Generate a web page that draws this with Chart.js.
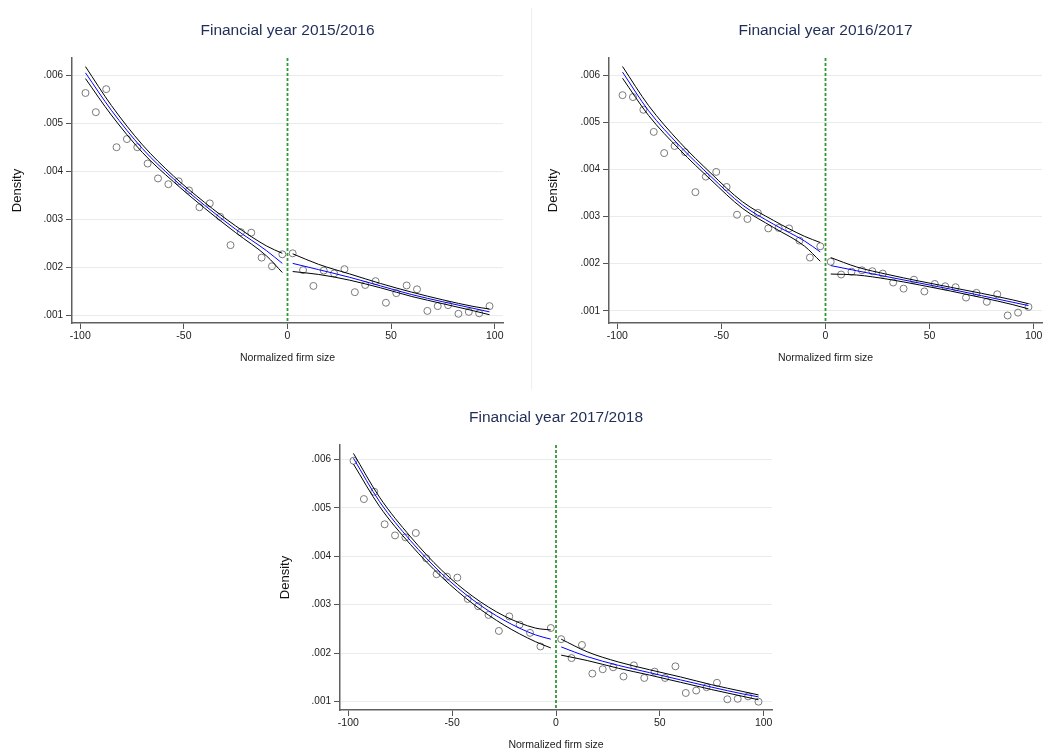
<!DOCTYPE html>
<html>
<head>
<meta charset="utf-8">
<title>Density by normalized firm size</title>
<script src="https://cdn.jsdelivr.net/npm/chart.js@4.4.0/dist/chart.umd.min.js"></script>
<style>
    body { margin: 0; background: #fff; width: 1047px; height: 753px; overflow: hidden; position: relative; }
    canvas { position: absolute; }
    #divider { position: absolute; left: 531px; top: 8px; width: 1px; height: 382px; background: #edf1f1; }
</style>
</head>
<body>
<div id="divider"></div>
<canvas id="c1" width="530" height="366" style="left:0;top:0"></canvas>
<canvas id="c2" width="517" height="366" style="left:530px;top:0"></canvas>
<canvas id="c3" width="520" height="366" style="left:270px;top:387px"></canvas>
<script>
// bin midpoints (normalized firm size)
const binX = [-97.5, -92.5, -87.5, -82.5, -77.5, -72.5, -67.5, -62.5, -57.5, -52.5,
    -47.5, -42.5, -37.5, -32.5, -27.5, -22.5, -17.5, -12.5, -7.5, -2.5,
    2.5, 7.5, 12.5, 17.5, 22.5, 27.5, 32.5, 37.5, 42.5, 47.5,
    52.5, 57.5, 62.5, 67.5, 72.5, 77.5, 82.5, 87.5, 92.5, 97.5];

// binned densities
const density1516 = [.00564, .00524, .00572, .00451, .00468, .00451, .00417, .00386, .00374, .00380,
    .00361, .00326, .00334, .00306, .00247, .00274, .00273, .00221, .00203, .00228,
    .00230, .00195, .00162, .00194, .00188, .00197, .00149, .00164, .00172, .00127,
    .00147, .00163, .00155, .00110, .00120, .00122, .00104, .00108, .00105, .00120];
const density1617 = [.00558, .00554, .00527, .00480, .00435, .00450, .00437, .00352, .00385, .00395,
    .00363, .00304, .00295, .00308, .00275, .00276, .00275, .00249, .00213, .00237,
    .00204, .00177, .00183, .00186, .00184, .00179, .00160, .00147, .00166, .00141,
    .00157, .00152, .00150, .00128, .00138, .00119, .00135, .00090, .00096, .00108];
const density1718 = [.00597, .00518, .00533, .00466, .00443, .00439, .00448, .00396, .00363, .00358,
    .00356, .00312, .00297, .00279, .00246, .00276, .00259, .00242, .00214, .00252,
    .00229, .00190, .00217, .00158, .00167, .00171, .00152, .00175, .00149, .00162,
    .00149, .00173, .00118, .00123, .00130, .00139, .00105, .00106, .00111, .00100];

// fitted curves and confidence bands, read at these x positions
const fitXLeft = [-97.5, -85, -70, -55, -40, -25, -10, -2.5];
const fitXRight = [2.5, 15, 30, 45, 60, 75, 90, 97.5];

const fit1516L = [.00606, .00528, .00448, .00385, .00330, .00280, .00235, .00209];
const hi1516L = [.00619, .00538, .00456, .00391, .00336, .00287, .00245, .00230];
const lo1516L = [.00594, .00518, .00440, .00379, .00324, .00273, .00224, .00190];
const fit1516R = [.00209, .00196, .00180, .00162, .00144, .00129, .00115, .00108];
const hi1516R = [.00229, .00207, .00187, .00167, .00149, .00133, .00119, .00114];
const lo1516R = [.00192, .00186, .00174, .00158, .00140, .00125, .00110, .00102];

const fit1617L = [.00607, .00525, .00450, .00385, .00325, .00284, .00248, .00225];
const hi1617L = [.00619, .00536, .00458, .00392, .00332, .00292, .00258, .00245];
const lo1617L = [.00594, .00515, .00442, .00378, .00318, .00277, .00237, .00205];
const fit1617R = [.00196, .00185, .00172, .00159, .00146, .00132, .00118, .00111];
const hi1617R = [.00213, .00193, .00177, .00163, .00150, .00137, .00123, .00115];
const lo1617R = [.00178, .00176, .00167, .00155, .00142, .00128, .00113, .00104];

const fit1718L = [.00602, .00513, .00432, .00364, .00310, .00268, .00238, .00229];
const hi1718L = [.00612, .00522, .00440, .00371, .00317, .00277, .00252, .00248];
const lo1718L = [.00590, .00503, .00424, .00357, .00302, .00258, .00224, .00211];
const fit1718R = [.00213, .00193, .00175, .00160, .00145, .00130, .00116, .00110];
const hi1718R = [.00229, .00203, .00182, .00166, .00151, .00135, .00121, .00114];
const lo1718R = [.00196, .00185, .00169, .00155, .00140, .00125, .00111, .00104];

// tick labels
const xTicks = [-100, -50, 0, 50, 100];
const yTicks = [.001, .002, .003, .004, .005, .006];

const FONT = '"Liberation Sans", Arial, sans-serif';

// title centered over the plot region (like Stata does)
const panelTitle = {
    id: 'panelTitle',
    afterDraw(chart, args, opts) {
        const { ctx, chartArea } = chart;
        ctx.save();
        ctx.font = '15.5px ' + FONT;
        ctx.fillStyle = '#1f2d57';
        ctx.textAlign = 'center';
        ctx.textBaseline = 'middle';
        ctx.fillText(opts.text, (chartArea.left + chartArea.right) / 2, opts.y);
        ctx.restore();
    }
};

function pts(xs, ys) {
    return xs.map((x, i) => ({ x: x, y: ys[i] }));
}

function curve(xs, ys, color) {
    return {
        data: pts(xs, ys),
        showLine: true,
        borderColor: color,
        borderWidth: 1,
        pointRadius: 0,
        cubicInterpolationMode: 'monotone',
        order: 1
    };
}

function makePanel(id, p) {
    const ctx = document.getElementById(id).getContext('2d');
    return new Chart(ctx, {
        type: 'scatter',
        data: {
            datasets: [
                // cutoff
                {
                    data: [{ x: 0, y: p.yMax }, { x: 0, y: p.yMin }],
                    showLine: true,
                    borderColor: '#2f9a32',
                    borderWidth: 1.8,
                    borderDash: [3, 2],
                    pointRadius: 0,
                    order: 2
                },
                curve(fitXLeft, p.hiL, '#000000'),
                curve(fitXLeft, p.loL, '#000000'),
                curve(fitXLeft, p.fitL, '#0000ff'),
                curve(fitXRight, p.hiR, '#000000'),
                curve(fitXRight, p.loR, '#000000'),
                curve(fitXRight, p.fitR, '#0000ff'),
                {
                    data: pts(binX, p.density),
                    pointRadius: 3.5,
                    pointBorderWidth: 1,
                    pointBorderColor: '#7a7a7a',
                    pointBackgroundColor: 'rgba(0,0,0,0)',
                    order: 5
                }
            ]
        },
        options: {
            responsive: false,
            animation: false,
            events: [],
            layout: { padding: { left: 0, right: p.padRight, top: 58, bottom: 0 } },
            plugins: {
                legend: { display: false },
                tooltip: { enabled: false },
                panelTitle: { text: p.title, y: 31 }
            },
            scales: {
                x: {
                    type: 'linear',
                    min: -104,
                    max: 104,
                    afterBuildTicks: s => { s.ticks = xTicks.map(v => ({ value: v })); },
                    afterFit: s => { s.height = 43; },
                    grid: { display: true, drawOnChartArea: false, tickLength: 6, tickColor: '#555', tickWidth: 1 },
                    border: { display: true, color: '#606060', width: 1.5 },
                    ticks: { font: { family: FONT, size: 10.5 }, color: '#222', padding: 1, maxRotation: 0 },
                    title: {
                        display: true,
                        text: 'Normalized firm size',
                        font: { family: FONT, size: 10.5 },
                        color: '#222',
                        padding: { top: 0, bottom: 1.7 }
                    }
                },
                y: {
                    type: 'linear',
                    min: p.yMin,
                    max: p.yMax,
                    afterBuildTicks: s => { s.ticks = yTicks.map(v => ({ value: v })); },
                    afterFit: s => { s.width = p.yAxisWidth; },
                    grid: { color: '#e5eded', lineWidth: 1, tickLength: 6, tickColor: '#555', tickWidth: 1 },
                    border: { display: true, color: '#606060', width: 1.5 },
                    ticks: {
                        font: { family: FONT, size: 10 },
                        color: '#222',
                        padding: 3,
                        callback: v => v.toFixed(3).replace(/^0/, '')
                    },
                    title: {
                        display: true,
                        text: 'Density',
                        font: { family: FONT, size: 13 },
                        color: '#111',
                        padding: { top: p.yTitlePad, bottom: 0 }
                    }
                }
            }
        },
        plugins: [panelTitle]
    });
}

makePanel('c1', {
    title: 'Financial year 2015/2016', density: density1516,
    fitL: fit1516L, hiL: hi1516L, loL: lo1516L, fitR: fit1516R, hiR: hi1516R, loR: lo1516R,
    yMin: .000848, yMax: .006369, yAxisWidth: 72, yTitlePad: 10, padRight: 27
});
makePanel('c2', {
    title: 'Financial year 2016/2017', density: density1617,
    fitL: fit1617L, hiL: hi1617L, loL: lo1617L, fitR: fit1617R, hiR: hi1617R, loR: lo1617R,
    yMin: .00074, yMax: .00637, yAxisWidth: 79, yTitlePad: 16, padRight: 1
});
makePanel('c3', {
    title: 'Financial year 2017/2018', density: density1718,
    fitL: fit1718L, hiL: hi1718L, loL: lo1718L, fitR: fit1718R, hiR: hi1718R, loR: lo1718R,
    yMin: .000829, yMax: .006295, yAxisWidth: 70, yTitlePad: 8, padRight: 18
});
</script>
</body>
</html>
